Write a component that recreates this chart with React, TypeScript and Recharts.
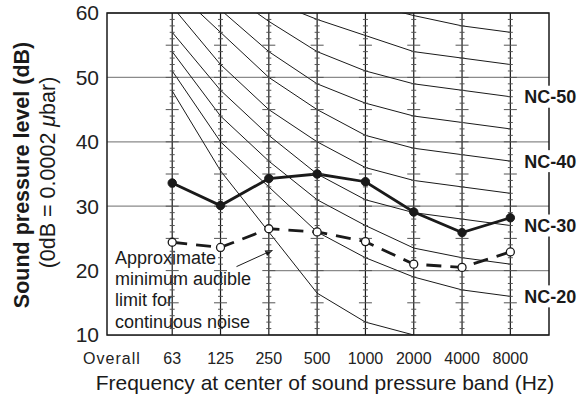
import {
  ComposedChart, Line, Scatter, XAxis, YAxis, CartesianGrid,
  ReferenceLine, ReferenceArea, Label,
} from 'recharts';

// x positions: 0 = Overall, 1..8 = octave band centres
const FREQ_LABELS = ['Overall', '63', '125', '250', '500', '1000', '2000', '4000', '8000'];
const BAND_INDEX = [1, 2, 3, 4, 5, 6, 7, 8];
const DB_TICKS = [10, 20, 30, 40, 50, 60];

// NC curves as drawn (63 ... 8000 Hz)
const NC15 = [47.9, 35.5, 26, 16.5, 12, 10, null, null];
const NC20 = [51, 40, 33, 26, 22, 19, 17, 16];
const NC25 = [54, 44, 37, 31, 27, 23.5, 22, 21];
const NC30 = [57, 48, 41, 35, 31, 29, 28, 27];
const NC35 = [61, 52, 45, 40, 36, 34, 33, 32];
const NC40 = [64, 57, 50, 45, 41, 39, 38, 37];
const NC45 = [67, 60.5, 54, 49, 46, 44, 43, 42];
const NC50 = [71, 64, 58.7, 54, 51, 49, 48, 47];
const NC55 = [74, 67, 62, 59, 56.5, 54, 53, 52];
const NC60 = [77, 71, 67, 63, 61.5, 59.6, 58, 57];

// measured spectrum and approximate minimum audible limit
const MEASURED = [33.6, 30.1, 34.3, 35.0, 33.8, 29.1, 25.9, 28.2];
const AUDIBLE = [24.4, 23.6, 26.5, 26.0, 24.5, 21.0, 20.5, 22.9];

const NC_SERIES: [string, (number | null)[], string | null][] = [
  ['nc15', NC15, null],
  ['nc20', NC20, 'NC-20'],
  ['nc25', NC25, null],
  ['nc30', NC30, 'NC-30'],
  ['nc35', NC35, null],
  ['nc40', NC40, 'NC-40'],
  ['nc45', NC45, null],
  ['nc50', NC50, 'NC-50'],
  ['nc55', NC55, null],
  ['nc60', NC60, null],
];

const NOTE_LINES = ['Approximate', 'minimum audible', 'limit for', 'continuous noise'];

const FONT = '"Liberation Sans", Arial, Helvetica, sans-serif';

const data = BAND_INDEX.map((x, i) => {
  const row: any = { x, measured: MEASURED[i], audible: AUDIBLE[i] };
  NC_SERIES.forEach(([key, vals]) => { row[key] = vals[i]; });
  return row;
});

// 1 dB graduation marks on every band line
const gradMarks: { x: number; y: number }[] = [];
BAND_INDEX.forEach((x) => {
  for (let db = 11; db < 60; db++) gradMarks.push({ x, y: db });
});

const GradMark = (p: any) => {
  const major = p.payload.y % 5 === 0;
  const w = major ? 6.5 : 2.5;
  return <line x1={p.cx - w} x2={p.cx + w} y1={p.cy} y2={p.cy} stroke="#555" strokeWidth={1} />;
};

const ncTag = (text: string) => (p: any) => {
  if (p.index !== 7) return null;
  const x = p.x ?? p.viewBox?.x;
  const y = p.y ?? p.viewBox?.y;
  return (
    <g>
      <rect x={x + 11} y={y - 11} width={60} height={22} fill="#fff" />
      <text x={x + 14} y={y + 6.5} fontSize={18} fontWeight="bold" fill="#1a1a1a" fontFamily={FONT}>{text}</text>
    </g>
  );
};

const XTick = (p: any) => {
  const v = p.payload.value;
  const first = v === 0;
  return (
    <text x={p.x + (first ? -12 : 0)} y={p.y} dy="0.71em" textAnchor="middle" fontSize={16}
      fill="#222" fontFamily={FONT} letterSpacing={first ? 1 : 0}>
      {FREQ_LABELS[v]}
    </text>
  );
};

const YTitle = (p: any) => {
  const vb = p.viewBox;
  const cy = vb.y + vb.height / 2;
  return (
    <g fontFamily={FONT} fill="#1a1a1a">
      <text x={29} y={cy + 1} transform={`rotate(-90 29 ${cy + 1})`} textAnchor="middle" fontSize={21.5} fontWeight="bold">
        Sound pressure level (dB)
      </text>
      <text x={55} y={cy - 1.5} transform={`rotate(-90 55 ${cy - 1.5})`} textAnchor="middle" fontSize={21.5}>
        (0dB = 0.0002 <tspan fontStyle="italic">μ</tspan>bar)
      </text>
    </g>
  );
};

const XTitle = () => (
  <text x={325} y={390} textAnchor="middle" fontSize={21} fill="#1a1a1a" fontFamily={FONT}>
    Frequency at center of sound pressure band (Hz)
  </text>
);

const NoteText = (p: any) => {
  const vb = p.viewBox;
  return (
    <text fontSize={18} fill="#1a1a1a" fontFamily={FONT}>
      {NOTE_LINES.map((t, i) => (
        <tspan key={t} x={vb.x + 8} y={vb.y + 15.5 + i * 21.1}>{t}</tspan>
      ))}
    </text>
  );
};

const Arrow = (p: any) => {
  const { x1, y1, x2, y2 } = p;
  const a = Math.atan2(y2 - y1, x2 - x1);
  const len = 8, half = 3;
  const bx = x2 - len * Math.cos(a), by = y2 - len * Math.sin(a);
  const px = -Math.sin(a) * half, py = Math.cos(a) * half;
  return (
    <g>
      <line x1={x1} y1={y1} x2={bx} y2={by} stroke="#1a1a1a" strokeWidth={1} />
      <polygon points={`${x2},${y2} ${bx + px},${by + py} ${bx - px},${by - py}`} fill="#1a1a1a" />
    </g>
  );
};

export default function App() {
  return (
    <div style={{ position: 'fixed', left: 0, top: 0, background: '#fff' }}>
      <ComposedChart width={587} height={400} data={data}
        margin={{ top: 13, right: 38, left: 0, bottom: 0 }}>
        <CartesianGrid vertical={false} stroke="#8a8a8a" strokeWidth={1.3} />
        <XAxis dataKey="x" type="number" domain={[-0.35, 8.8]} ticks={[0, ...BAND_INDEX]}
          allowDataOverflow axisLine={false} tickLine={false} tickSize={0} tickMargin={18}
          height={65} tick={<XTick />} interval={0}>
          <Label content={<XTitle />} />
        </XAxis>
        <YAxis type="number" domain={[10, 60]} ticks={DB_TICKS} allowDataOverflow width={107}
          axisLine={false} tickLine={false} tickSize={0} tickMargin={8}
          tick={{ fontSize: 21, fill: '#222', fontFamily: FONT }}>
          <Label content={<YTitle />} />
        </YAxis>

        <ReferenceArea x1={-0.35} x2={3} y1={10} y2={23.4} fill="#fff" fillOpacity={1} stroke="none"
          label={<NoteText />} />
        <ReferenceArea x1={-0.35} x2={8.8} y1={10} y2={60} fill="none" stroke="#1a1a1a" strokeWidth={1.5} />

        {BAND_INDEX.map((x) => (
          <ReferenceLine key={x} x={x} stroke="#1a1a1a" strokeWidth={1.2} />
        ))}
        <Scatter data={gradMarks} dataKey="y" shape={<GradMark />} isAnimationActive={false} />

        <ReferenceLine segment={[{ x: 2.331, y: 20.62 }, { x: 3.089, y: 23.21 }]} shape={<Arrow />} />

        {NC_SERIES.map(([key, , tag]) => (
          <Line key={key} dataKey={key} type="linear" stroke="#1a1a1a" strokeWidth={1} dot={false}
            activeDot={false} isAnimationActive={false}
            label={tag ? ncTag(tag) : false} />
        ))}

        <Line dataKey="audible" type="linear" stroke="#1a1a1a" strokeWidth={2.8} strokeDasharray="15 9"
          dot={{ r: 4, fill: '#fff', stroke: '#1a1a1a', strokeWidth: 1.3, strokeDasharray: '' }}
          activeDot={false} isAnimationActive={false} />
        <Line dataKey="measured" type="linear" stroke="#1a1a1a" strokeWidth={2.8}
          dot={{ r: 4.2, fill: '#1a1a1a', stroke: '#1a1a1a', strokeWidth: 1 }}
          activeDot={false} isAnimationActive={false} />
      </ComposedChart>
    </div>
  );
}
